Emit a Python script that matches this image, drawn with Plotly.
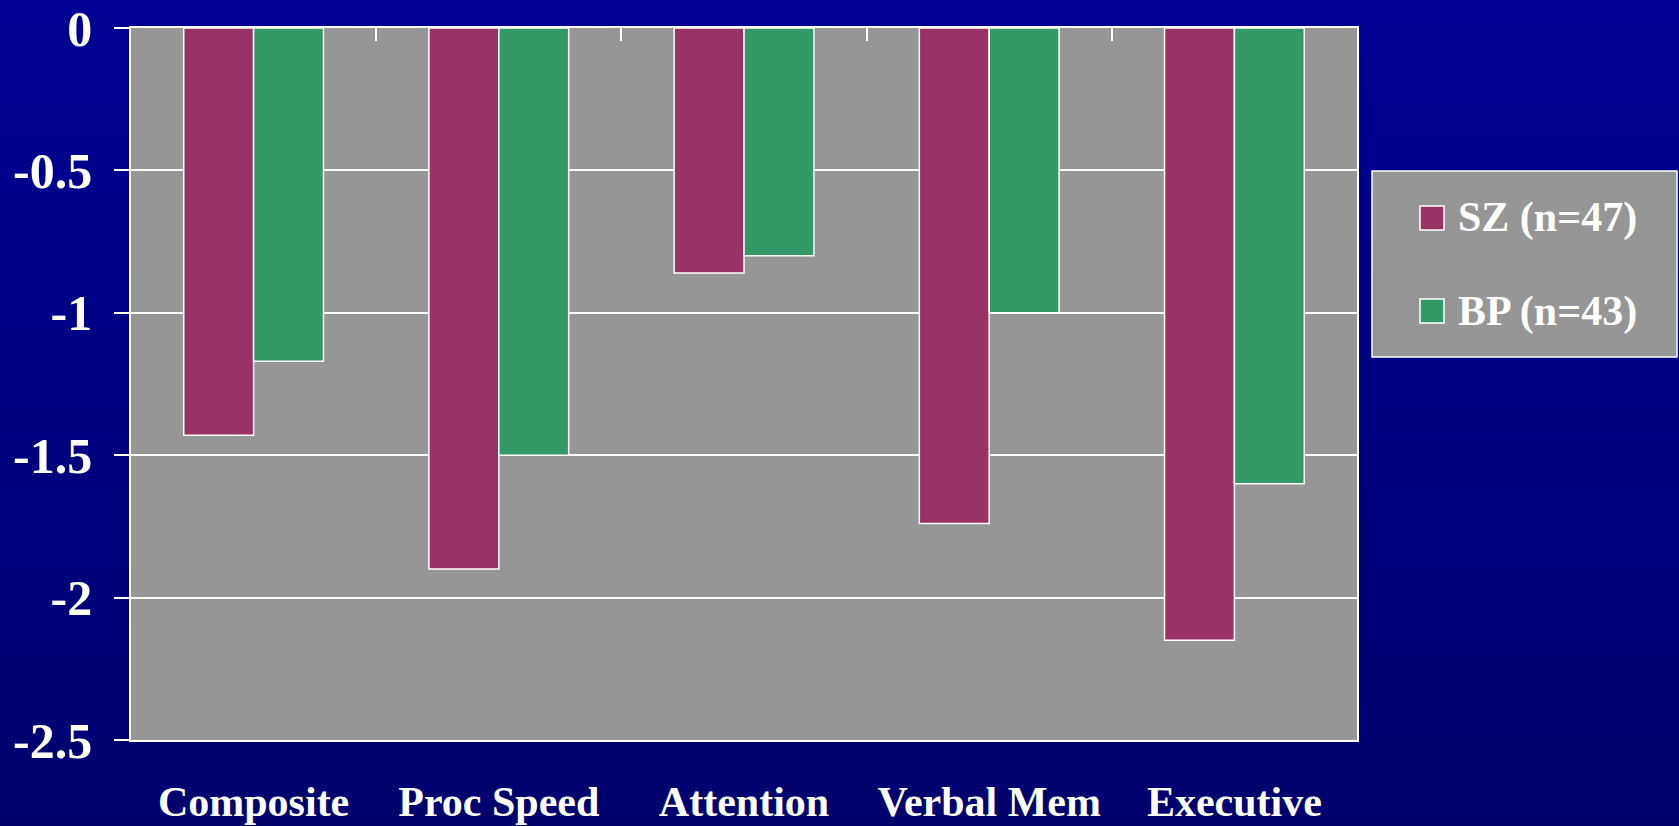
import plotly.graph_objects as go

categories = ["Composite", "Proc Speed", "Attention", "Verbal Mem", "Executive"]
sz_name = "SZ (n=47)"
bp_name = "BP (n=43)"
sz_values = [-1.43, -1.90, -0.86, -1.74, -2.15]
bp_values = [-1.17, -1.50, -0.80, -1.00, -1.60]
y_tickvals = [0, -0.5, -1, -1.5, -2, -2.5]
y_ticktext = ["0", "-0.5", "-1", "-1.5", "-2", "-2.5"]

SZ_COLOR = "#993366"
BP_COLOR = "#339966"
PLOT_BG = "#969696"
FONT = "Liberation Serif"

W, H = 1679, 826
ML, MR, MT, MB = 131, 322, 28, 86

fig = go.Figure()
fig.add_trace(go.Bar(x=categories, y=sz_values, name=sz_name,
                     marker=dict(color=SZ_COLOR, line=dict(color="white", width=1.5)),
                     showlegend=False))
fig.add_trace(go.Bar(x=categories, y=bp_values, name=bp_name,
                     marker=dict(color=BP_COLOR, line=dict(color="white", width=1.5)),
                     showlegend=False))
# helper trace for top axis with category-boundary ticks
bounds = [i + 0.5 for i in range(len(categories) - 1)]
fig.add_trace(go.Scatter(x=bounds, y=[None] * len(bounds), xaxis="x2", yaxis="y",
                         mode="markers", marker=dict(opacity=0), showlegend=False,
                         hoverinfo="skip"))

shapes = []
# gradient background
n = 60
for i in range(n):
    t = i / (n - 1)
    b = int(round(150 + (104 - 150) * t))
    shapes.append(dict(type="rect", xref="paper", yref="paper",
                       x0=-0.2, x1=1.5, y0=1.1 - (i + 1) * (1.4 / n), y1=1.1 - i * (1.4 / n) + 0.001,
                       fillcolor=f"rgb(0,0,{b})", line=dict(width=0), layer="below"))
# plot area background
shapes.append(dict(type="rect", xref="paper", yref="paper", x0=0, x1=1, y0=0, y1=1,
                   fillcolor=PLOT_BG, line=dict(width=0), layer="below"))

# custom legend
def px_x(px):
    return (px - ML) / (W - ML - MR)

def px_y(py):
    return 1 - (py - MT) / (H - MT - MB)

shapes.append(dict(type="rect", xref="paper", yref="paper",
                   x0=px_x(1372), x1=px_x(1677), y0=px_y(357), y1=px_y(171),
                   fillcolor=PLOT_BG, line=dict(color="white", width=1.5), layer="above"))
annotations = []
for name, color, cy in [(sz_name, SZ_COLOR, 218), (bp_name, BP_COLOR, 311)]:
    shapes.append(dict(type="rect", xref="paper", yref="paper",
                       x0=px_x(1420), x1=px_x(1444), y0=px_y(cy + 12), y1=px_y(cy - 12),
                       fillcolor=color, line=dict(color="white", width=1.5), layer="above"))
    annotations.append(dict(xref="paper", yref="paper", x=px_x(1456), y=px_y(cy),
                            xanchor="left", yanchor="middle", showarrow=False, text=name,
                            font=dict(family=FONT, size=42, color="white", weight="bold")))

fig.update_layout(
    width=W, height=H,
    margin=dict(l=ML, r=MR, t=MT, b=MB, autoexpand=False),
    paper_bgcolor="#000080",
    plot_bgcolor="rgba(0,0,0,0)",
    barmode="group",
    bargap=0.43,
    bargroupgap=0,
    shapes=shapes,
    annotations=annotations,
    xaxis=dict(type="category", range=[-0.5, 4.5], showgrid=False, ticks="",
               showline=True, linecolor="white", linewidth=1.5, automargin=False,
               tickfont=dict(family=FONT, size=42, color="white", weight="bold"),
               ticklabelstandoff=24),
    xaxis2=dict(overlaying="x", side="top", range=[-0.5, 4.5], tickmode="array",
                tickvals=bounds, ticks="inside", ticklen=13, tickcolor="white", tickwidth=1.5,
                showticklabels=False, showgrid=False, showline=True, linecolor="white",
                linewidth=1.5, zeroline=False, automargin=False),
    yaxis=dict(range=[-2.5, 0], tickmode="array", tickvals=y_tickvals, ticktext=y_ticktext,
               ticks="outside", ticklen=15, tickcolor="white", tickwidth=1.5,
               showline=True, linecolor="white", linewidth=1.5, mirror=True,
               showgrid=True, gridcolor="white", gridwidth=1.5, zeroline=False,
               automargin=False,
               tickfont=dict(family=FONT, size=50, color="white", weight="bold"),
               ticklabelstandoff=12),
)

fig.write_html("out.html")
